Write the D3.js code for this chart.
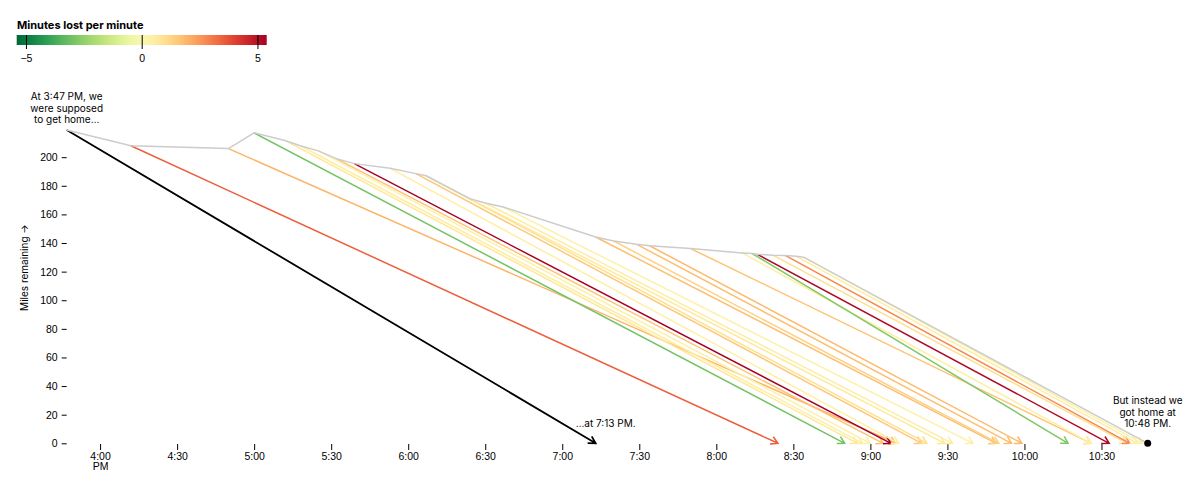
<!DOCTYPE html>
<html>
<head>
<meta charset="utf-8">
<script src="https://cdn.jsdelivr.net/npm/d3@7"></script>
<style>
  body { margin: 0; background: #fff; }
  svg { font-family: Inter, "Noto Sans", sans-serif; font-size: 10px; }
</style>
</head>
<body>
<script>
"use strict";

// readings taken along the drive: clock time, miles left, predicted arrival
const times = ["15:47","16:12","16:50","17:00","17:12","17:18","17:25","17:32","17:39","17:53","18:03","18:07","18:24","18:30","18:37",
  "19:13","19:20","19:29","19:34","19:50","20:10","20:14","20:16","20:22","20:27","20:31","20:34"];
const miles = [219,208,206,217,211.7,208,204.4,199,195.5,192.2,188.5,187,171,168,165.2,
  144.2,141.4,139.1,138.1,136.1,133.1,132.6,132.1,131.5,131.2,130.8,130.1];
const etas = ["19:13","20:24","21:10","20:50","20:55","20:57","21:00","21:05","21:08","21:11","21:20","21:22","21:29","21:32","21:40",
  "21:49","21:50","21:55","21:59","22:26","22:26","22:17","22:33","22:40","22:41","22:44","22:46"];
// minutes lost per minute (colour)
const lost = [null,3.5,2.0,-3.0,0.8,0.6,0.4,1.7,5.4,0.5,1.6,1.0,0.7,0.6,0.4,
  1.8,1.4,1.8,1.9,1.7,0.5,-2.8,5.2,1.0,2.8,0.6,0.4];
const arrived = "22:48";
const xTicks = ["16:00","16:30","17:00","17:30","18:00","18:30","19:00","19:30","20:00","20:30","21:00","21:30","22:00","22:30"];
const yTicks = [0,20,40,60,80,100,120,140,160,180,200];
const legendTicks = [-5,0,5];

const width = 1200, height = 491;
const parse = d3.timeParse("%H:%M");

const rows = times.map((t, i) => ({
  time: parse(t), miles: miles[i], eta: parse(etas[i]), lost: lost[i]
}));
const end = {time: parse(arrived), miles: 0};

const svg = d3.select("body").append("svg")
  .attr("width", width).attr("height", height);

const x = d3.scaleTime()
  .domain([rows[0].time, end.time])
  .range([66.7, 1147.7]);

const y = d3.scaleLinear()
  .domain([0, d3.max(miles)])
  .range([443.3, 130]);

const color = d3.scaleDiverging(t => d3.interpolateRdYlGn(1 - t))
  .domain([-5.4, 0, 5.4]);

// legend
const legend = svg.append("g");
legend.append("text")
  .attr("x", 17).attr("y", 28.5)
  .attr("font-weight", "bold")
  .attr("font-size", 11)
  .text("Minutes lost per minute");

const lx = d3.scaleLinear().domain([-5.4, 5.4]).range([16.7, 266.7]);
const grad = svg.append("defs").append("linearGradient").attr("id", "ramp");
d3.range(0, 1.0001, 0.05).forEach(t => {
  grad.append("stop").attr("offset", t).attr("stop-color", color(-5.4 + 10.8 * t));
});
legend.append("rect")
  .attr("x", lx.range()[0]).attr("y", 35)
  .attr("width", lx.range()[1] - lx.range()[0]).attr("height", 10)
  .attr("fill", "url(#ramp)");
legend.append("g")
  .attr("transform", "translate(0,35)")
  .call(d3.axisBottom(lx).tickValues(legendTicks).tickSize(14).tickFormat(d3.format("d")))
  .call(g => g.select(".domain").remove())
  .call(g => g.selectAll(".tick line").attr("stroke", "#000"))
  .call(g => g.selectAll(".tick text").attr("font-size", 10.5).attr("font-family", null).attr("y", 20));

// y axis
svg.append("g")
  .attr("transform", "translate(66.7,0)")
  .call(d3.axisLeft(y).tickValues(yTicks).tickSize(5).tickPadding(4))
  .call(g => g.select(".domain").remove())
  .call(g => g.selectAll(".tick text").attr("font-size", 10.5).attr("font-family", null));

svg.append("text")
  .attr("transform", "translate(28,267.5) rotate(-90)")
  .attr("text-anchor", "middle")
  .text("Miles remaining →");

// x axis
const xa = svg.append("g")
  .attr("transform", "translate(0,444)")
  .call(d3.axisBottom(x).tickValues(xTicks.map(parse)).tickSize(6).tickPadding(3)
    .tickFormat(d3.timeFormat("%-I:%M")))
  .call(g => g.select(".domain").remove());
xa.selectAll(".tick text").attr("font-size", 10.5).attr("font-family", null);
xa.select(".tick text").append("tspan")
  .attr("x", 0).attr("dy", "0.95em").text("PM");

// arrows
const head = 8, spread = Math.PI / 6;
function arrowPath(d) {
  const x1 = x(d.time), y1 = y(d.miles), x2 = x(d.eta), y2 = y(0);
  const a = Math.atan2(y2 - y1, x2 - x1);
  const h1 = [x2 - head * Math.cos(a - spread), y2 - head * Math.sin(a - spread)];
  const h2 = [x2 - head * Math.cos(a + spread), y2 - head * Math.sin(a + spread)];
  return `M${x1},${y1}L${x2},${y2}M${h1}L${x2},${y2}L${h2}`;
}

svg.append("g")
  .attr("fill", "none")
  .attr("stroke-width", 1.5)
  .selectAll("path")
  .data(rows)
  .join("path")
  .attr("stroke", d => d.lost == null ? "#000" : color(d.lost))
  .attr("stroke-width", d => d.lost == null ? 1.8 : 1.5)
  .attr("d", arrowPath);

// route actually driven
svg.append("path")
  .datum(rows.concat([end]))
  .attr("fill", "none")
  .attr("stroke", "#ccc")
  .attr("stroke-width", 1.5)
  .attr("d", d3.line().x(d => x(d.time)).y(d => y(d.miles)));

svg.append("circle")
  .attr("cx", x(end.time)).attr("cy", y(0)).attr("r", 3.5)
  .attr("fill", "#000");

// notes
function note(lines, px, lastY) {
  const t = svg.append("text").attr("text-anchor", "middle").attr("font-size", 10);
  lines.forEach((s, i) => {
    t.append("tspan").attr("x", px).attr("y", lastY - (lines.length - 1 - i) * 11.5).text(s);
  });
}
note(["At 3:47 PM, we", "were supposed", "to get home…"], x(rows[0].time), 123);
note(["…at 7:13 PM."], x(rows[0].eta) + 10, 426.7);
note(["But instead we", "got home at", "10:48 PM."], x(end.time), 427);
</script>
</body>
</html>
